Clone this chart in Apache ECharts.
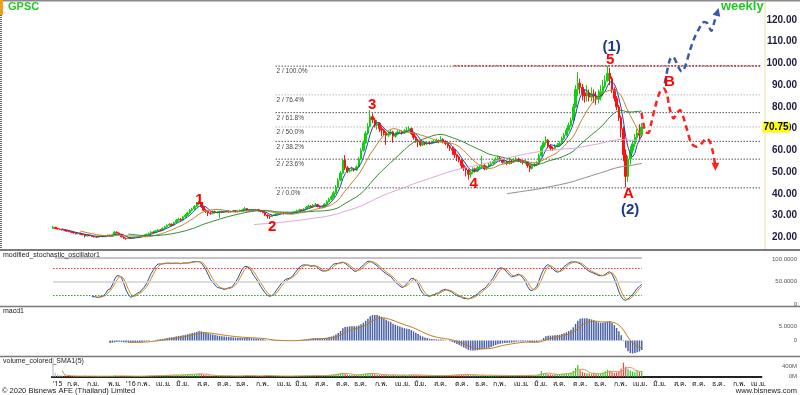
<!DOCTYPE html>
<html><head><meta charset="utf-8">
<script src="https://cdn.jsdelivr.net/npm/echarts@6/dist/echarts.min.js"></script>
<style>html,body{margin:0;padding:0;background:#fff;overflow:hidden}#c{width:800px;height:395px}</style>
</head><body><div id="c"></div>
<script>
// ---------------- DATA ----------------
const firstWeek = '2015-05-22';
const weekSlots = 311;            // data weeks + projection space
const thaiMonths = ['ม.ค.','ก.พ.','มี.ค.','เม.ย.','พ.ค.','มิ.ย.','ก.ค.','ส.ค.','ก.ย.','ต.ค.','พ.ย.','ธ.ค.'];
// weekly candles: [open, close, low, high]
const candles = [
[24.0,24.6,23.8,25.2],[24.6,24.0,23.8,24.8],[24.1,23.8,23.6,24.3],[23.8,23.6,23.3,24.0],[23.7,23.4,23.1,23.9],
[23.4,23.2,22.9,23.6],[23.2,22.8,22.5,23.4],[22.9,22.6,22.3,23.1],[22.6,22.3,22.0,22.8],[22.3,22.0,21.7,22.5],
[22.0,21.6,21.3,22.2],[21.6,21.9,21.4,22.2],[21.9,21.4,21.1,22.0],[21.4,21.2,20.9,21.6],[21.2,20.6,19.9,21.3],
[20.6,21.0,20.4,21.3],[21.0,20.8,20.5,21.2],[20.8,20.4,20.1,21.0],[20.4,20.2,19.9,20.6],[20.2,20.1,19.8,20.4],
[20.1,20.5,19.9,20.8],[20.5,20.8,20.3,21.1],[20.8,20.3,20.0,21.0],[20.3,20.6,20.1,20.9],[20.6,21.0,20.4,21.3],
[21.0,20.5,20.2,21.2],[20.5,21.2,20.4,21.6],[21.2,22.4,21.0,22.9],[22.4,22.0,21.6,22.7],[22.0,21.3,21.0,22.2],
[21.3,20.2,19.9,21.4],[20.2,19.6,19.2,20.4],[19.6,19.4,18.9,19.9],[19.4,19.8,19.2,20.1],[19.8,19.5,19.2,20.0],
[19.5,19.9,19.3,20.2],[19.9,20.0,19.6,20.3],[20.0,20.1,19.7,20.4],[20.1,20.3,19.9,20.6],[20.3,20.6,20.1,20.9],
[20.6,21.0,20.4,21.3],[21.0,21.4,20.8,21.7],[21.4,21.8,21.2,22.2],[21.8,22.4,21.6,22.8],[22.4,22.2,21.8,22.7],
[22.2,23.0,22.0,23.4],[23.0,23.4,22.7,23.8],[23.4,23.2,22.8,23.7],[23.2,24.1,23.0,24.5],[24.1,24.8,23.8,25.3],
[24.8,25.5,24.5,26.0],[25.5,26.0,25.1,26.6],[26.0,25.6,25.0,26.4],[25.6,26.8,25.4,27.2],[26.8,27.8,26.5,28.4],
[27.8,28.3,27.3,29.0],[28.3,27.9,27.2,28.8],[27.9,29.4,27.7,29.9],[29.4,30.2,29.0,30.8],[30.2,31.2,29.8,31.8],
[31.2,32.4,30.8,33.0],[32.4,33.0,31.8,33.6],[33.0,34.2,32.6,34.8],[34.2,35.6,33.8,36.2],[35.6,36.0,34.8,36.8],
[36.0,34.0,33.5,36.3],[34.0,32.4,32.0,34.4],[32.4,32.0,31.2,33.0],[32.0,31.2,29.8,32.3],[31.2,31.0,30.4,31.8],
[31.0,31.8,30.6,32.3],[31.8,31.4,31.0,32.2],[31.4,31.6,30.9,32.0],[31.6,31.9,29.0,32.3],[31.9,31.5,31.1,32.2],
[31.5,31.8,31.2,32.2],[31.8,32.1,31.5,32.5],[32.1,31.7,31.4,32.4],[31.7,31.9,31.4,32.3],[31.9,32.2,31.6,32.6],
[32.2,31.8,31.5,32.5],[31.8,32.0,31.5,32.4],[32.0,32.4,31.8,32.8],[32.4,32.6,32.1,33.0],[32.6,33.2,32.3,34.0],
[33.2,32.5,32.2,33.5],[32.5,32.3,31.9,32.8],[32.3,32.6,32.0,33.0],[32.6,32.4,32.0,32.9],[32.4,32.7,32.1,33.1],
[32.7,32.2,31.9,33.0],[32.2,31.9,31.5,32.5],[31.9,31.4,31.0,32.2],[31.4,30.2,29.8,31.6],[30.2,29.8,28.6,30.5],
[29.8,29.6,28.4,30.2],[29.6,30.0,29.3,30.4],[30.0,30.4,29.8,30.8],[30.4,30.9,30.1,31.2],[30.9,31.0,30.5,31.4],
[31.0,31.2,30.7,31.6],[31.2,30.9,30.5,31.5],[30.9,31.1,30.6,31.5],[31.1,31.0,30.6,31.4],[31.0,31.0,30.6,31.4],
[31.0,31.4,30.8,31.8],[31.4,31.8,31.1,32.2],[31.8,32.2,31.5,32.7],[32.2,32.6,31.9,33.1],[32.6,32.4,32.0,33.0],
[32.4,33.0,32.1,33.5],[33.0,33.8,32.8,34.4],[33.8,34.4,33.4,35.0],[34.4,34.0,33.5,34.8],[34.0,34.7,33.7,35.3],
[34.7,35.0,34.2,35.8],[35.0,34.2,33.8,35.4],[34.2,33.8,33.2,34.6],[33.8,34.0,33.3,34.6],[34.0,35.2,33.8,35.8],
[35.2,36.4,34.9,37.0],[36.4,37.5,36.0,38.2],[37.5,38.6,37.0,39.4],[38.6,40.5,38.2,41.4],[40.5,43.0,40.0,44.0],
[43.0,46.3,42.5,47.2],[46.3,49.5,45.8,50.5],[49.5,55.5,49.0,56.2],[55.5,52.0,51.0,57.8],[52.0,50.5,49.5,52.8],
[50.5,50.9,49.8,51.8],[50.9,51.5,50.3,52.4],[51.5,51.0,50.2,52.0],[51.0,52.4,50.6,53.2],[52.4,56.0,52.0,56.8],
[56.0,60.0,55.5,61.0],[60.0,63.5,59.4,64.5],[63.5,67.8,63.0,68.8],[67.8,71.0,67.0,72.5],[71.0,75.5,70.5,78.5],
[75.5,74.0,72.5,77.0],[74.0,71.5,70.5,75.0],[71.5,72.4,69.5,74.0],[72.4,70.0,68.5,73.0],[70.0,69.3,66.5,71.0],
[69.3,68.0,66.8,70.0],[68.0,67.0,62.5,68.8],[67.0,67.8,66.2,68.6],[67.8,68.5,67.0,69.4],[68.5,66.5,63.5,69.0],
[66.5,67.5,65.8,68.3],[67.5,68.5,67.0,69.3],[68.5,68.5,67.6,69.5],[68.5,68.0,67.2,69.2],[68.0,69.0,67.5,69.8],
[69.0,69.3,68.2,70.8],[69.3,70.0,68.8,71.2],[70.0,67.8,67.0,70.5],[67.8,66.0,65.0,68.4],[66.0,64.5,63.5,66.8],
[64.5,64.0,61.5,65.3],[64.0,62.5,61.8,64.6],[62.5,63.5,62.0,64.2],[63.5,63.0,62.3,64.0],[63.0,63.5,62.5,64.2],
[63.5,63.2,62.6,64.0],[63.2,63.8,62.8,64.5],[63.8,64.0,63.2,64.8],[64.0,64.5,63.5,65.5],[64.5,64.0,63.3,65.0],
[64.0,65.0,63.6,66.5],[65.0,64.0,63.2,65.6],[64.0,63.2,62.4,64.6],[63.2,62.0,61.0,63.6],[62.0,61.0,59.8,62.5],
[61.0,60.1,58.0,61.6],[60.1,58.0,56.5,60.6],[58.0,57.0,55.0,58.5],[57.0,55.5,54.5,57.6],[55.5,53.0,51.5,56.0],
[53.0,52.0,50.5,53.8],[52.0,51.0,48.0,52.6],[51.0,49.0,46.5,51.5],[49.0,50.0,47.5,50.8],[50.0,51.5,49.2,52.2],
[51.5,50.5,49.8,52.0],[50.5,52.0,50.0,52.8],[52.0,52.4,51.2,53.2],[52.4,53.0,51.8,57.5],[53.0,51.5,50.8,53.6],
[51.5,52.4,50.9,53.0],[52.4,53.5,52.0,54.2],[53.5,54.0,52.8,55.0],[54.0,55.0,53.4,55.8],[55.0,56.0,54.4,56.8],
[56.0,56.4,55.2,57.5],[56.4,55.5,54.8,57.0],[55.5,54.5,53.8,56.0],[54.5,54.7,53.6,55.4],[54.7,54.0,53.2,55.2],
[54.0,55.0,53.5,56.5],[55.0,54.7,53.8,55.6],[54.7,55.5,54.2,56.4],[55.5,56.0,55.0,57.0],[56.0,55.5,54.6,56.6],
[55.5,55.0,54.2,56.0],[55.0,54.5,53.5,55.6],[54.5,54.7,53.6,55.4],[54.7,53.0,52.0,55.0],[53.0,51.7,50.0,53.4],
[51.7,53.0,51.2,53.6],[53.0,53.5,52.4,54.2],[53.5,54.0,53.0,55.0],[54.0,57.5,53.8,58.5],[57.5,61.6,57.0,62.5],
[61.6,63.5,60.8,64.2],[63.5,64.7,62.5,66.5],[64.7,62.0,61.0,65.2],[62.0,61.0,60.0,62.8],[61.0,60.9,59.8,61.8],
[60.9,62.0,60.2,62.8],[62.0,62.5,61.4,63.4],[62.5,63.2,61.8,64.2],[63.2,65.5,62.8,66.4],[65.5,67.0,64.8,68.0],
[67.0,69.3,66.5,70.5],[69.3,71.5,68.6,72.8],[71.5,73.9,70.8,75.0],[73.9,80.0,73.5,81.5],[80.0,88.0,79.5,90.0],
[88.0,91.0,85.0,96.0],[91.0,89.0,86.0,93.0],[89.0,86.5,83.0,90.5],[86.5,85.0,82.0,88.0],[85.0,86.5,82.5,90.0],
[86.5,84.5,82.5,88.0],[84.5,86.0,82.5,89.0],[86.0,85.0,82.0,88.0],[85.0,83.5,81.0,87.0],[83.5,84.5,81.5,88.0],
[84.5,87.0,83.0,90.0],[87.0,89.5,85.0,92.5],[89.5,92.0,88.5,94.5],[92.0,95.5,91.5,99.0],[95.5,93.0,90.0,98.0],
[93.0,88.0,86.5,94.0],[88.0,84.0,82.5,89.0],[84.0,80.0,78.5,85.0],[80.0,75.0,73.5,81.0],[75.0,70.0,66.0,76.0],
[70.0,58.0,55.0,71.0],[58.0,48.0,43.0,60.5],[48.0,56.0,45.5,57.5],[56.0,60.0,53.5,62.0],[60.0,63.0,58.5,64.5],
[63.0,66.0,61.5,67.5],[66.0,68.0,64.5,70.0],[68.0,67.0,64.5,72.0],[67.0,70.75,66.0,72.5]
];
// weekly volume, millions of shares
const volumeM = [
850,160,90,70,60,45,35,30,28,25, 30,22,25,20,35,25,20,22,18,20, 25,22,20,18,25,22,30,45,30,25,
35,30,28,20,22,18,20,22,25,28, 30,35,40,45,38,50,45,40,55,60, 65,70,55,75,80,70,60,85,90,95,
100,110,90,120,130,110,85,70,60,50, 45,40,38,35,45,40,38,35,30,32, 30,35,38,40,55,45,40,35,38,32,
35,30,40,55,50,45,35,30,32,30, 28,25,30,28,25,30,35,38,40,35, 40,45,50,42,48,50,45,40,42,55,
60,70,75,90,110,130,140,160,120,90, 80,70,65,75,90,110,120,130,140,150, 120,100,90,80,75,70,85,70,65,75,
70,65,60,70,65,60,75,80,70,65, 70,60,55,50,55,50,48,45,50,45, 50,48,45,55,60,70,75,80,85,90,
80,85,95,75,70,65,60,55,80,60, 55,50,60,55,65,60,50,45,50,45, 50,48,55,52,50,45,48,50,60,70,
55,50,60,110,230,140,150,110,90,80, 95,90,100,120,130,140,150,160,230,350, 470,260,190,150,140,130,120,150,110,100,
130,170,220,280,240,190,150,170,210,330, 560,400,300,240,200,180,250,190,230
];
const maPeriods = [5, 13, 34, 89, 200];
const fibLow = 42.75, fibHigh = 98.75;
const fibRatios = [1.0, 0.764, 0.618, 0.5, 0.382, 0.236, 0.0];
const fibStartWeek = 97.5;
const resistance = 98.9, resistanceStartWeek = 175.7;
const priceTicks = [20, 30, 40, 50, 60, 70, 80, 90, 100, 110, 120];
const lastPrice = 70.75;
// hand-drawn projections [week, price]
const redPath = [[257.9,77.2],[258.7,72.6],[259.5,68.6],[260.9,68.0],[262.2,72.6],[263.9,80.0],[266.0,87.0],[267.6,88.5],
  [269.1,85.5],[270.4,78.6],[272.0,74.7],[273.4,77.0],[274.8,78.6],[276.2,75.5],[277.7,70.1],[279.8,63.2],[282.0,61.7],
  [284.2,63.2],[286.4,65.5],[287.9,64.0],[289.3,58.7],[290.3,52.5]];
const bluePath = [[268.1,90.8],[270.3,101.6],[271.7,103.1],[274.0,98.5],[275.5,96.2],[277.0,98.5],[279.2,106.2],[281.3,112.3],
  [282.8,115.4],[285.4,119.1],[286.7,118.6],[288.5,115.0],[289.8,119.0],[291.2,123.7]];
// Elliott wave labels [text, week, price, kind]
const waveLabels = [['1',64.2,37.2,'r'],['2',96.0,24.6,'r'],['3',139.9,80.9,'r'],['4',184.4,44.5,'r'],['5',244.2,101.6,'r'],
  ['A',252.2,40.2,'r'],['B',270.1,91.6,'r'],['(1)',244.8,107.7,'b'],['(2)',252.9,32.6,'b']];

// ---------------- DERIVED ----------------
const N = candles.length;
const closes = candles.map(c => c[1]);
const cats = [];
const d0 = new Date(firstWeek + 'T00:00:00Z');
for (let i = 0; i < weekSlots; i++) cats.push(new Date(d0.getTime() + i * 7 * 864e5).toISOString().slice(0, 10));

function sma(a, n) { return a.map((v, i) => { if (v == null || i < n - 1) return null; let s = 0; for (let k = i - n + 1; k <= i; k++) { if (a[k] == null) return null; s += a[k]; } return +(s / n).toFixed(3); }); }
function ema(a, n) { const out = []; let prev = null, start = a.findIndex(v => v != null); for (let i = 0; i < a.length; i++) { if (a[i] == null || i < start + n - 1) { out.push(null); continue; } if (prev == null) { let s = 0; for (let k = i - n + 1; k <= i; k++) s += a[k]; prev = s / n; } else prev = a[i] * 2 / (n + 1) + prev * (1 - 2 / (n + 1)); out.push(+prev.toFixed(4)); } return out; }
const mas = maPeriods.map(p => sma(closes, p));
const rawK = candles.map((c, i) => { if (i < 13) return null; let hh = -1e9, ll = 1e9; for (let k = i - 13; k <= i; k++) { hh = Math.max(hh, candles[k][3]); ll = Math.min(ll, candles[k][2]); } return hh === ll ? 50 : (c[1] - ll) / (hh - ll) * 100; });
const stFast = sma(rawK, 5), stSlow = sma(stFast, 3);
const e12 = ema(closes, 12), e26 = ema(closes, 26);
const macd = closes.map((v, i) => e26[i] == null ? null : +(e12[i] - e26[i]).toFixed(4));
const signal = ema(macd, 9);
const volSma = sma(volumeM, 5);

// month labels on x axis
const monthLabel = {};
let prevM = -1;
cats.forEach((s, i) => { const m = +s.slice(5, 7) - 1; if (i === 0 || m !== prevM) monthLabel[i] = (m === 0 || i === 0) ? "'" + s.slice(2, 4) : thaiMonths[m]; prevM = m; });
const shownLabels = new Set();
(function () { const ctx = document.createElement('canvas').getContext('2d'); ctx.font = '7px "Noto Sans", sans-serif'; let lastEnd = -1e9; const step = 711.6 / weekSlots;
  Object.keys(monthLabel).map(Number).sort((a, b) => a - b).forEach(i => { const x = i * step; if (x >= lastEnd + 1) { shownLabels.add(i); lastEnd = x + Math.max(9.5, ctx.measureText(monthLabel[i]).width); } }); })();

// ---------------- CHART ----------------
const L = 51.9, W = 711.6;
const FONT = '"Liberation Sans", Arial, sans-serif';
const chart = echarts.init(document.getElementById('c'), null, { renderer: 'canvas' });
const maColors = ['#2a44a8', '#c4822c', '#2e8b2e', '#dca6dc', '#8c8c8c'];
const series = [];
series.push({ type: 'candlestick', xAxisIndex: 0, yAxisIndex: 0, data: candles, barWidth: 2, barMinWidth: 1,
  itemStyle: { color: '#10d010', color0: '#ff1010', borderColor: '#10d010', borderColor0: '#ff1010', borderWidth: 1 } });
mas.forEach((m, k) => series.push({ type: 'line', xAxisIndex: 0, yAxisIndex: 0, data: m, symbol: 'none', lineStyle: { width: 1, color: maColors[k] }, z: 3 }));
// fib lines
const fibLevels = fibRatios.map(r => +(fibLow + (fibHigh - fibLow) * r).toFixed(2));
fibLevels.forEach((lv, k) => {
  series.push({ type: 'line', xAxisIndex: 1, yAxisIndex: 0, data: [[fibStartWeek, lv], [weekSlots - 0.5, lv]], symbol: 'none', silent: true,
    lineStyle: { width: 1, type: [1.5, 1.5], color: (k === 1 || k === 3) ? '#b8b8b8' : '#555' }, z: 1 });
  series.push({ type: 'scatter', xAxisIndex: 1, yAxisIndex: 0, symbolSize: 0, silent: true, itemStyle: { opacity: 1 },
    data: [{ value: [fibStartWeek, lv], label: { show: true, formatter: '2 / ' + (fibRatios[k] * 100).toFixed(1) + '%', position: [1, 2], color: '#444', fontSize: 6.5, fontFamily: FONT } }] });
});
series.push({ type: 'line', xAxisIndex: 1, yAxisIndex: 0, data: [[resistanceStartWeek, resistance], [weekSlots - 0.5, resistance]], symbol: 'none', silent: true,
  lineStyle: { width: 1, type: [2, 1.5], color: '#c00000' }, z: 2 });
// projections
function pathData(p, rot) { return p.map((pt, i) => i === p.length - 1 ? { value: pt, symbol: 'triangle', symbolSize: [8, 8], symbolRotate: rot } : { value: pt, symbol: 'none' }); }
series.push({ type: 'line', xAxisIndex: 1, yAxisIndex: 0, data: pathData(redPath, 180), smooth: 0.3, showSymbol: true,
  lineStyle: { width: 2.5, type: [6, 4], color: '#ff2020' }, itemStyle: { color: '#ff2020' }, z: 5 });
series.push({ type: 'line', xAxisIndex: 1, yAxisIndex: 0, data: pathData(bluePath, -15), smooth: 0.3, showSymbol: true,
  lineStyle: { width: 2.5, type: [6, 4], color: '#3a5aa8' }, itemStyle: { color: '#3a5aa8' }, z: 5 });
// wave labels
series.push({ type: 'scatter', xAxisIndex: 1, yAxisIndex: 0, symbolSize: 0, silent: true, z: 10, itemStyle: { opacity: 1 },
  data: waveLabels.map(w => ({ value: [w[1], w[2]], label: { show: true, opacity: 1, position: 'inside', formatter: w[0], fontSize: 15, fontWeight: 'bold', fontFamily: FONT, color: w[3] === 'r' ? '#ff0000' : '#1c3a8c' } })) });
// last price tag
series.push({ type: 'scatter', xAxisIndex: 1, yAxisIndex: 0, symbolSize: 0, silent: true, z: 20, clip: false, itemStyle: { opacity: 1 },
  data: [{ value: [weekSlots - 0.5, lastPrice], label: { show: true, opacity: 1, position: 'right', distance: 1, formatter: lastPrice.toFixed(2), backgroundColor: '#ffff00', color: '#000', fontWeight: 'bold', fontSize: 10, fontFamily: FONT, padding: [1, 1, 0, 1] } }] });
// stochastic
series.push({ type: 'line', xAxisIndex: 2, yAxisIndex: 1, data: stFast, symbol: 'none', lineStyle: { width: 1, color: '#2c4aa0' }, z: 3,
  markLine: { silent: true, symbol: 'none', label: { show: false }, data: [
    [{ coord: [0, 80], lineStyle: { color: '#ff3030', type: [1.5, 1.5], width: 1 } }, { coord: [N - 1, 80] }],
    [{ coord: [0, 50], lineStyle: { color: '#d0d0d0', type: 'solid', width: 1.5 } }, { coord: [N - 1, 50] }],
    [{ coord: [0, 20], lineStyle: { color: '#30a030', type: [1.5, 1.5], width: 1 } }, { coord: [N - 1, 20] }]] } });
series.push({ type: 'line', xAxisIndex: 2, yAxisIndex: 1, data: stSlow, symbol: 'none', lineStyle: { width: 1, color: '#d48a1c' }, z: 4 });
// macd
series.push({ type: 'bar', xAxisIndex: 3, yAxisIndex: 2, data: macd, barWidth: 1.5, itemStyle: { color: '#4a62a6' } });
series.push({ type: 'line', xAxisIndex: 3, yAxisIndex: 2, data: signal, symbol: 'none', lineStyle: { width: 1, color: '#c27a1e' }, z: 4 });
// volume
series.push({ type: 'bar', xAxisIndex: 4, yAxisIndex: 3, barWidth: 1.2,
  data: volumeM.map((v, i) => ({ value: v, itemStyle: { color: i < 5 ? '#c0c0c0' : (candles[i][1] >= candles[i][0] ? '#20d020' : '#ff4040') } })) });
series.push({ type: 'line', xAxisIndex: 4, yAxisIndex: 3, data: volSma, symbol: 'none', lineStyle: { width: 1, color: '#d09a50' }, z: 4 });

const hiddenCat = (g) => ({ type: 'category', gridIndex: g, data: cats, show: false, boundaryGap: true });
const rightAxis = (g, min, max, vals, fmt, style) => ({ type: 'value', gridIndex: g, position: 'right', min, max, splitLine: { show: false },
  axisLine: { show: false }, axisTick: { show: false },
  axisLabel: Object.assign({ customValues: vals, formatter: fmt, align: 'right', margin: 35.5, fontFamily: FONT }, style) });

chart.setOption({
  animation: false,
  backgroundColor: '#fff',
  grid: [
    { left: L, width: W, top: 2, height: 246 },
    { left: L, width: W, top: 259, height: 45 },
    { left: L, width: W, top: 309, height: 45.5 },
    { left: L, width: W, top: 358, height: 18.7 }
  ],
  xAxis: [
    hiddenCat(0),
    { type: 'value', gridIndex: 0, min: -0.5, max: weekSlots - 0.5, show: false },
    hiddenCat(1), hiddenCat(2),
    { type: 'category', gridIndex: 3, data: cats, boundaryGap: true, axisTick: { show: false },
      axisLine: { show: true, lineStyle: { color: '#222', width: 2 } },
      axisLabel: { interval: (i) => shownLabels.has(i), formatter: (v, i) => monthLabel[i] || '', align: 'left', fontSize: 7, color: '#111', margin: 4, fontFamily: '"Noto Sans", sans-serif' } }
  ],
  yAxis: [
    rightAxis(0, 15.07, 128.28, priceTicks, v => v.toFixed(2), { fontSize: 10, fontWeight: 'bold', color: '#1c1c3c' }),
    rightAxis(1, 0, 100, [0, 50, 100], v => v === 0 ? '0' : v.toFixed(4), { fontSize: 6, color: '#555' }),
    rightAxis(2, -5, 11.25, [0, 5], v => v === 0 ? '0' : v.toFixed(4), { fontSize: 6, color: '#555' }),
    rightAxis(3, 0, 748, [0, 400], v => v + 'M', { fontSize: 6, color: '#555' })
  ],
  series,
  graphic: [
    { type: 'rect', shape: { x: 0, y: 0, width: 800, height: 1.5 }, style: { fill: '#8a8a8a' }, silent: true },
    { type: 'rect', shape: { x: 0, y: 0, width: 3, height: 15 }, style: { fill: '#f0a020' }, silent: true },
    { type: 'line', shape: { x1: 1, y1: 15, x2: 1, y2: 250 }, style: { stroke: '#666', lineDash: [1, 1], lineWidth: 2 }, silent: true },
    { type: 'line', shape: { x1: 765, y1: 2, x2: 765, y2: 249 }, style: { stroke: '#f0dca0', lineWidth: 1 }, silent: true },
    { type: 'line', shape: { x1: 0, y1: 250, x2: 800, y2: 250 }, style: { stroke: '#7a7a7a', lineWidth: 2 }, silent: true },
    { type: 'line', shape: { x1: 55, y1: 258, x2: 642, y2: 258 }, style: { stroke: '#8a8a8a', lineWidth: 1 }, silent: true },
    { type: 'line', shape: { x1: 0, y1: 306.5, x2: 800, y2: 306.5 }, style: { stroke: '#7a7a7a', lineWidth: 1.5 }, silent: true },
    { type: 'line', shape: { x1: 0, y1: 356.5, x2: 800, y2: 356.5 }, style: { stroke: '#7a7a7a', lineWidth: 1.5 }, silent: true },
    { type: 'text', left: 8, top: 1, style: { text: 'GPSC', fill: '#22c822', font: 'bold 11px ' + FONT } },
    { type: 'text', left: 721, top: 0, style: { text: 'weekly', fill: '#22c822', font: 'bold 13px ' + FONT } },
    { type: 'text', left: 3, top: 252, style: { text: 'modified_stochastic_oscillator1', fill: '#222', font: '7px ' + FONT } },
    { type: 'text', left: 3, top: 308, style: { text: 'macd1', fill: '#222', font: '7px ' + FONT } },
    { type: 'text', left: 3, top: 358, style: { text: 'volume_colored_SMA1(5)', fill: '#222', font: '7px ' + FONT } },
    { type: 'text', left: 2, top: 387, style: { text: '© 2020 Bisnews AFE (Thailand) Limited', fill: '#222', font: '7.5px ' + FONT } },
    { type: 'text', right: 3, top: 387, style: { text: 'www.bisnews.com', fill: '#222', font: '7.5px ' + FONT } }
  ]
});
</script></body></html>
